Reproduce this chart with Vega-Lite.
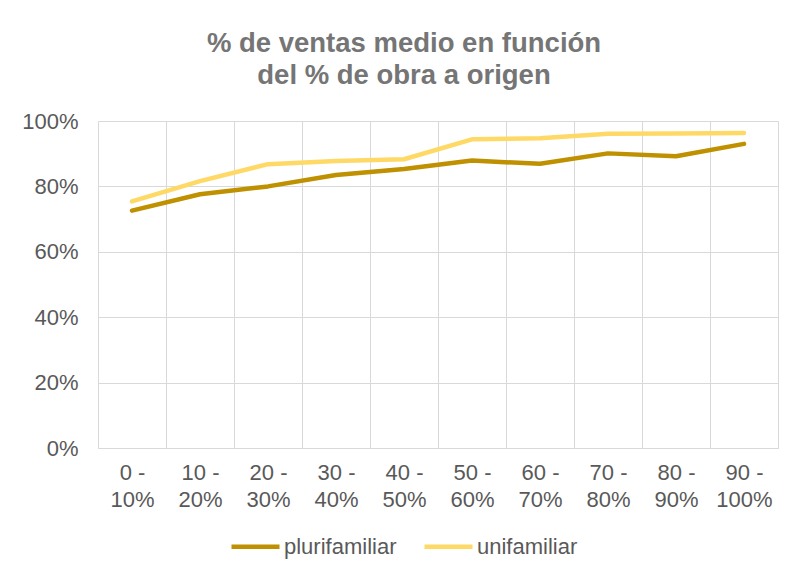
{
  "$schema": "https://vega.github.io/schema/vega-lite/v6.json",
  "width": 680,
  "height": 327,
  "autosize": {"type": "none"},
  "padding": {"left": 98, "top": 121, "right": 18, "bottom": 126},
  "background": "white",
  "title": {
    "text": ["% de ventas medio en función", "del % de obra a origen"],
    "font": "Liberation Sans",
    "fontSize": 27.5,
    "fontWeight": "bold",
    "color": "#757575",
    "lineHeight": 32,
    "anchor": "middle",
    "dx": -34,
    "offset": 21
  },
  "data": {
    "values": [
      {"rango": "0 - 10%", "serie": "plurifamiliar", "valor": 0.726},
      {"rango": "10 - 20%", "serie": "plurifamiliar", "valor": 0.776},
      {"rango": "20 - 30%", "serie": "plurifamiliar", "valor": 0.800},
      {"rango": "30 - 40%", "serie": "plurifamiliar", "valor": 0.835},
      {"rango": "40 - 50%", "serie": "plurifamiliar", "valor": 0.853},
      {"rango": "50 - 60%", "serie": "plurifamiliar", "valor": 0.879},
      {"rango": "60 - 70%", "serie": "plurifamiliar", "valor": 0.869},
      {"rango": "70 - 80%", "serie": "plurifamiliar", "valor": 0.901},
      {"rango": "80 - 90%", "serie": "plurifamiliar", "valor": 0.892},
      {"rango": "90 - 100%", "serie": "plurifamiliar", "valor": 0.930},
      {"rango": "0 - 10%", "serie": "unifamiliar", "valor": 0.754},
      {"rango": "10 - 20%", "serie": "unifamiliar", "valor": 0.816},
      {"rango": "20 - 30%", "serie": "unifamiliar", "valor": 0.868},
      {"rango": "30 - 40%", "serie": "unifamiliar", "valor": 0.878},
      {"rango": "40 - 50%", "serie": "unifamiliar", "valor": 0.883},
      {"rango": "50 - 60%", "serie": "unifamiliar", "valor": 0.944},
      {"rango": "60 - 70%", "serie": "unifamiliar", "valor": 0.947},
      {"rango": "70 - 80%", "serie": "unifamiliar", "valor": 0.961},
      {"rango": "80 - 90%", "serie": "unifamiliar", "valor": 0.962},
      {"rango": "90 - 100%", "serie": "unifamiliar", "valor": 0.963}
    ]
  },
  "mark": {"type": "line", "strokeWidth": 4.5, "strokeCap": "round", "strokeJoin": "round"},
  "encoding": {
    "x": {
      "field": "rango",
      "type": "nominal",
      "sort": null,
      "title": null,
      "scale": {"paddingInner": 0, "paddingOuter": 0},
      "axis": {
        "labelAngle": 0,
        "tickBand": "extent",
        "ticks": false,
        "grid": true,
        "gridColor": "#D9D9D9",
        "domainColor": "#D9D9D9",
        "labelFont": "Liberation Sans",
        "labelFontSize": 22,
        "labelColor": "#595959",
        "labelLineHeight": 27,
        "labelPadding": 14,
        "labelBaseline": "top",
        "labelExpr": "indexof(datum.label + '', ' - ') > 0 ? [split(datum.label, ' - ')[0] + ' -', split(datum.label, ' - ')[1]] : ''"
      }
    },
    "y": {
      "field": "valor",
      "type": "quantitative",
      "title": null,
      "scale": {"domain": [0, 1], "nice": false},
      "axis": {
        "format": ".0%",
        "values": [0, 0.2, 0.4, 0.6, 0.8, 1],
        "domain": false,
        "ticks": false,
        "gridColor": "#D9D9D9",
        "labelFont": "Liberation Sans",
        "labelFontSize": 22,
        "labelColor": "#595959",
        "labelPadding": 20
      }
    },
    "color": {
      "field": "serie",
      "type": "nominal",
      "scale": {"domain": ["plurifamiliar", "unifamiliar"], "range": ["#BF9000", "#FFD966"]},
      "legend": {
        "title": null,
        "orient": "none",
        "direction": "horizontal",
        "legendX": 131,
        "legendY": 399,
        "padding": 0,
        "symbolType": "stroke",
        "symbolSize": 2304,
        "symbolStrokeWidth": 4.5,
        "labelFont": "Liberation Sans",
        "labelFontSize": 22,
        "labelColor": "#595959",
        "labelOffset": 2,
        "columnPadding": 18
      }
    }
  },
  "config": {
    "view": {"stroke": null}
  }
}
